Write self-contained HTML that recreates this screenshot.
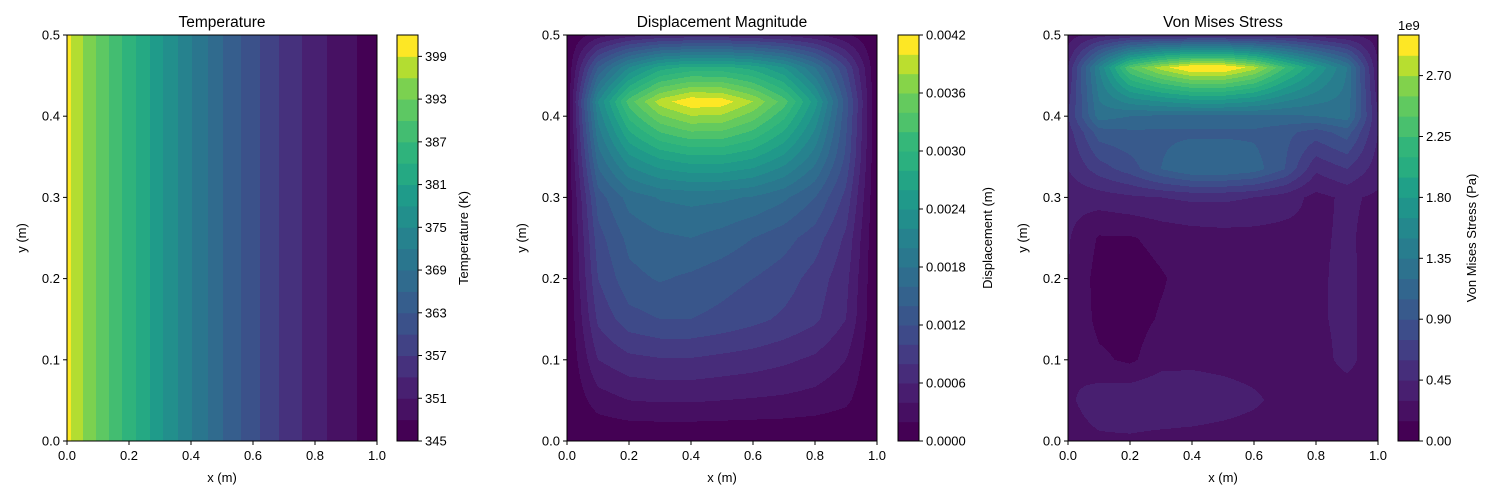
<!DOCTYPE html>
<html><head><meta charset="utf-8">
<style>
html,body{margin:0;padding:0;background:#fff;}
svg{display:block;font-family:"Liberation Sans","DejaVu Sans",sans-serif;}
</style></head>
<body>
<svg id="fig" width="1500" height="500" viewBox="0 0 1500 500" xmlns="http://www.w3.org/2000/svg"></svg>
<script>
// ---------- DATA ----------
const xNodes = [0,0.1,0.2,0.3,0.4,0.5,0.6,0.7,0.8,0.9,1.0];
// Temperature (K) profile along x
const tempValues = [400,392.4,385.5,378.7,372.2,366.2,361,356.3,352.3,349,346.3];
const tempLevels = [345,348,351,354,357,360,363,366,369,372,375,378,381,384,387,390,393,396,399,402];
const tempTicks = [345,351,357,363,369,375,381,387,393,399];

// Displacement (units of 0.0002 m)
const dispY = [0,0.05,0.1,0.15,0.2,0.25,0.3,0.35,0.418,0.46,0.5];
const dispGrid = [
 [0,0,0,0,0,0,0,0,0,0,0],
 [0,1.5,2.0,2.1,2.1,2.0,1.9,1.8,1.6,1.2,0],
 [0,3.0,3.7,3.9,3.9,3.7,3.5,3.2,2.8,2.0,0],
 [0,4.2,5.6,6.0,6.0,5.7,5.3,4.8,4.2,3.0,0],
 [0,5.0,6.7,7.1,6.8,6.4,6.0,5.5,4.6,3.3,0],
 [0,5.6,7.3,7.8,8.0,7.6,7.0,6.4,5.5,3.8,0],
 [0,6.5,8.4,9.1,9.3,9.2,8.9,8.2,7.0,4.7,0],
 [0,8.5,11.8,13.2,13.8,13.8,13.2,11.8,9.5,5.8,0],
 [0,11.0,16.5,19.5,20.8,20.6,19.0,16.5,12.5,6.5,0],
 [0,7.0,11.0,13.5,14.3,14.3,13.6,12.0,9.0,5.0,0],
 [0,1.5,2.5,3.0,3.2,3.2,3.0,2.7,2.2,1.2,0]
];
const dispScale = 0.0002;
const dispLevels = [0,0.0002,0.0004,0.0006,0.0008,0.0010,0.0012,0.0014,0.0016,0.0018,0.0020,0.0022,0.0024,0.0026,0.0028,0.0030,0.0032,0.0034,0.0036,0.0038,0.0040,0.0042];
const dispTicks = ["0.0000","0.0006","0.0012","0.0018","0.0024","0.0030","0.0036","0.0042"];

// Von Mises stress (units of 0.15e9 Pa)
const stressY = [0,0.05,0.1,0.15,0.2,0.25,0.3,0.335,0.38,0.4,0.46,0.5];
const stressGrid = [
 [1.5,1.8,1.8,1.6,1.5,1.4,1.3,1.3,1.2,1.2,1.5],
 [1.8,2.6,2.9,3.0,2.9,2.6,2.2,1.6,1.4,1.4,1.5],
 [2.0,1.2,0.8,1.6,1.7,1.6,1.5,1.5,1.6,2.3,1.4],
 [2.0,0.7,0.6,1.1,1.4,1.5,1.5,1.5,1.8,2.3,1.4],
 [2.0,0.6,0.5,0.9,1.4,1.5,1.5,1.5,1.8,2.3,1.4],
 [2.1,0.9,0.9,1.3,1.5,1.6,1.6,1.6,1.8,2.2,1.5],
 [2.3,2.5,2.8,3.0,3.2,3.2,3.0,2.5,1.7,2.2,1.8],
 [3.0,4.5,5.5,7.0,8.0,8.0,7.5,6.0,3.2,4.0,2.5],
 [3.5,6.5,6.8,6.8,6.8,6.8,6.8,6.3,5.5,6.5,3.0],
 [4.0,8.5,8.0,7.8,7.8,7.8,7.8,7.8,8.0,8.5,3.0],
 [3.0,10.0,16.0,18.5,20.2,20.2,18.5,15.0,12.0,9.0,2.0],
 [1.5,2.5,3.0,3.2,3.2,3.2,3.0,3.0,2.5,2.0,1.5]
];
const stressScale = 0.15;
const stressLevels = [0,0.15,0.3,0.45,0.6,0.75,0.9,1.05,1.2,1.35,1.5,1.65,1.8,1.95,2.1,2.25,2.4,2.55,2.7,2.85,3.0];
const stressTicks = ["0.00","0.45","0.90","1.35","1.80","2.25","2.70"];

const xTicks = ["0.0","0.2","0.4","0.6","0.8","1.0"];
const yTicks = ["0.0","0.1","0.2","0.3","0.4","0.5"];

// ---------- HELPERS ----------
const NS = "http://www.w3.org/2000/svg";
const svg = document.getElementById('fig');
function mk(tag, attrs, parent){const e=document.createElementNS(NS,tag);for(const k in attrs)e.setAttribute(k,attrs[k]);(parent||svg).appendChild(e);return e;}
const VIR=[[0,68,1,84],[0.0625,71,19,101],[0.125,72,36,117],[0.1875,69,55,129],[0.25,62,74,137],[0.3125,56,89,140],[0.375,49,104,142],[0.4375,43,117,142],[0.5,38,130,142],[0.5625,33,145,140],[0.625,31,158,137],[0.6875,40,174,128],[0.75,53,183,121],[0.8125,84,197,104],[0.875,110,206,88],[0.9375,170,220,50],[1,253,231,37]];
function viridis(t){t=Math.max(0,Math.min(1,t));for(let i=1;i<VIR.length;i++){if(t<=VIR[i][0]){const a=VIR[i-1],b=VIR[i],f=(t-a[0])/(b[0]-a[0]);return `rgb(${Math.round(a[1]+f*(b[1]-a[1]))},${Math.round(a[2]+f*(b[2]-a[2]))},${Math.round(a[3]+f*(b[3]-a[3]))})`;}}return 'rgb(253,231,37)';}
function bandColor(i,n){return viridis(n<=1?0:i/(n-1));}
function locate(nodes,v){let i=0;while(i<nodes.length-2&&v>nodes[i+1])i++;const f=(v-nodes[i])/(nodes[i+1]-nodes[i]);return [i,Math.max(0,Math.min(1,f))];}
function bilinear(xs,ys,grid,x,y){const [i,fx]=locate(xs,x);const [j,fy]=locate(ys,y);
 const a=grid[j][i],b=grid[j][i+1],c=grid[j+1][i],d=grid[j+1][i+1];
 return (a*(1-fx)+b*fx)*(1-fy)+(c*(1-fx)+d*fx)*fy;}
function bandOf(levels,v){for(let k=0;k<levels.length-1;k++){if(v<levels[k+1])return k;}return levels.length-2;}

function axesFrame(ox, title, idx){
  const W=310,H=406,T=35;
  const g=mk('g',{});
  
  
  return {g,ox,W,H,T,sx:v=>ox+v*W,sy:v=>T+H-(v/0.5)*H};
}
function decorate(ax,title,idx){
  const {g,ox,W,H,T}=ax;
  const fr=mk('rect',{x:ox,y:T,width:W,height:H,fill:'none',stroke:'#000','stroke-width':1},g);
  
  
  xTicks.forEach((t,k)=>{const x=ax.sx(parseFloat(t));
    mk('line',{x1:x,x2:x,y1:T+H,y2:T+H+4,stroke:'#000'},g);
    const tx=mk('text',{x:x,y:T+H+19,'font-size':13,'text-anchor':'middle',fill:'#000'},g);tx.textContent=t;
    
    });
  yTicks.forEach((t,k)=>{const y=ax.sy(parseFloat(t));
    mk('line',{x1:ox-4,x2:ox,y1:y,y2:y,stroke:'#000'},g);
    const tx=mk('text',{x:ox-7,y:y+4.5,'font-size':13,'text-anchor':'end',fill:'#000'},g);tx.textContent=t;
    
    });
  const xl=mk('text',{x:ox+W/2,y:482,'font-size':13,'text-anchor':'middle'},g);xl.textContent='x (m)';
  
  
  const yl=mk('text',{x:0,y:0,'font-size':13,'text-anchor':'middle',transform:`translate(${ox-41},${T+H/2}) rotate(-90)`},g);yl.textContent='y (m)';
  
  
  const tt=mk('text',{x:ox+W/2,y:27,'font-size':15.5,'text-anchor':'middle'},g);tt.textContent=title;
  
  
}
function colorbar(cx, levels, ticks, tickVal, label, idx, labelX){
  const T=35,H=406,W=21;
  const g=mk('g',{});
  
  
  const lo=levels[0],hi=levels[levels.length-1];
  const cy=v=>T+H-(v-lo)/(hi-lo)*H;
  const n=levels.length-1;
  for(let k=0;k<n;k++){
    const y1=cy(levels[k+1]),y0=cy(levels[k]);
    const r=mk('rect',{x:cx,y:y1,width:W,height:y0-y1+0.5,fill:bandColor(k,n)},g);
    
    
  }
  mk('rect',{x:cx,y:T,width:W,height:H,fill:'none',stroke:'#000'},g);
  ticks.forEach(t=>{const y=cy(tickVal(t));
    mk('line',{x1:cx+W,x2:cx+W+4,y1:y,y2:y,stroke:'#000'},g);
    const tx=mk('text',{x:cx+W+7,y:y+4.5,'font-size':13},g);tx.textContent=t;
    
    });
  const l=mk('text',{x:0,y:0,'font-size':13,'text-anchor':'middle',transform:`translate(${labelX},${T+H/2}) rotate(-90)`},g);l.textContent=label;
  
  
  return g;
}
function fieldPanel(ax, fn, levels){
  const {g,ox,W,H,T}=ax;
  const n=levels.length-1;
  for(let py=0;py<H;py++){
    const yv=0.5-(py+0.5)/H*0.5;
    let start=0,cur=bandOf(levels,fn(0.5/W,yv));
    for(let px=1;px<=W;px++){
      const b= px<W ? bandOf(levels,fn((px+0.5)/W,yv)) : -1;
      if(b!==cur){
        const r=mk('rect',{x:ox+start,y:T+py,width:px-start+0.4,height:1.4,fill:bandColor(cur,n)},g);
        
        
        start=px;cur=b;
      }
    }
  }
}

// ---------- PANEL 1: Temperature ----------
const ax1=axesFrame(67,'Temperature',1);
(function(){
  const n=tempLevels.length-1;
  const interp=x=>{const [i,f]=locate(xNodes,x);return tempValues[i]*(1-f)+tempValues[i+1]*f;};
  let start=0,cur=bandOf(tempLevels,interp(0.5/ax1.W));
  for(let px=1;px<=ax1.W;px++){
    const b=px<ax1.W?bandOf(tempLevels,interp((px+0.5)/ax1.W)):-1;
    if(b!==cur){
      const r=mk('rect',{x:ax1.ox+start,y:ax1.T,width:px-start+0.4,height:ax1.H,fill:bandColor(cur,n)},ax1.g);
      
      
      start=px;cur=b;
    }
  }
})();
decorate(ax1,'Temperature',1);
colorbar(397,tempLevels,tempTicks,t=>t,'Temperature (K)',1,468);

// ---------- PANEL 2: Displacement ----------
const ax2=axesFrame(567,'Displacement Magnitude',2);
fieldPanel(ax2,(x,y)=>bilinear(xNodes,dispY,dispGrid,x,y)*dispScale,dispLevels);
decorate(ax2,'Displacement Magnitude',2);
colorbar(898,dispLevels,dispTicks,t=>parseFloat(t),'Displacement (m)',2,992);

// ---------- PANEL 3: Von Mises ----------
const ax3=axesFrame(1068,'Von Mises Stress',3);
fieldPanel(ax3,(x,y)=>bilinear(xNodes,stressY,stressGrid,x,y)*stressScale,stressLevels);
decorate(ax3,'Von Mises Stress',3);
const cb3=colorbar(1398,stressLevels,stressTicks,t=>parseFloat(t),'Von Mises Stress (Pa)',3,1476);
const off=mk('text',{x:1398,y:30,'font-size':13},cb3);off.textContent='1e9';


</script>
</body></html>
